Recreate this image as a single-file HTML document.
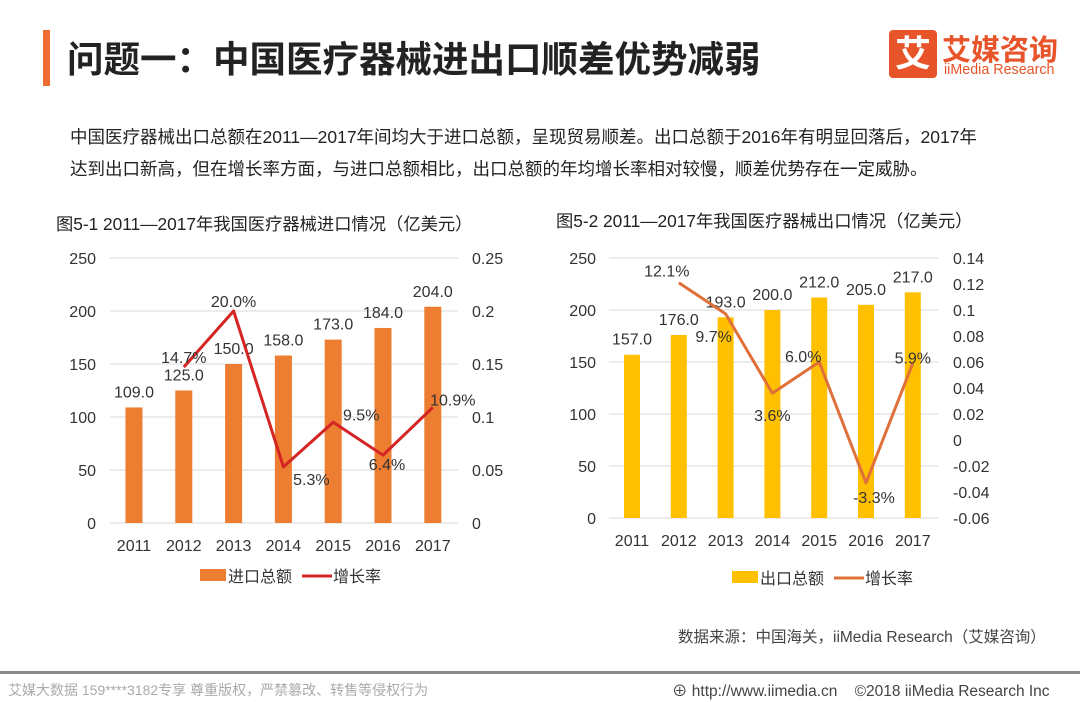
<!DOCTYPE html>
<html><head><meta charset="utf-8"><style>
body{margin:0;width:1080px;height:702px;background:#fff;position:relative;overflow:hidden;font-family:"Liberation Sans","Noto Sans CJK SC",sans-serif;color:#222}
.a{position:absolute;white-space:nowrap}
</style></head><body>
<div class="a" style="left:43px;top:30px;width:7px;height:56px;background:#ed6d35"></div>
<div class="a" style="left:67px;top:30px;font-size:36.5px;font-weight:bold;color:#222">问题一：中国医疗器械进出口顺差优势减弱</div>
<div class="a" style="left:889px;top:30px;width:48px;height:48px;background:#e8542a;border-radius:4px;color:#fff;font-size:36px;font-weight:bold;text-align:center;line-height:48px">艾</div>
<div class="a" style="left:942px;top:27px;font-size:29px;font-weight:bold;color:#e8542a">艾媒咨询</div>
<div class="a" style="left:944px;top:62px;font-size:14.3px;color:#e8542a">iiMedia Research</div>
<div class="a" style="left:70px;top:121px;font-size:17.5px;line-height:32px;color:#222">中国医疗器械出口总额在2011—2017年间均大于进口总额，呈现贸易顺差。出口总额于2016年有明显回落后，2017年<br>达到出口新高，但在增长率方面，与进口总额相比，出口总额的年均增长率相对较慢，顺差优势存在一定威胁。</div>
<div class="a" style="left:56px;top:210px;font-size:17.3px">图5-1 2011—2017年我国医疗器械进口情况（亿美元）</div>
<div class="a" style="left:556px;top:207px;font-size:17.3px">图5-2 2011—2017年我国医疗器械出口情况（亿美元）</div>
<svg class="a" style="left:0;top:0" width="1080" height="702" id="svg"></svg>
<div class="a" style="left:678px;top:625px;font-size:15.5px;color:#444">数据来源：中国海关，iiMedia Research（艾媒咨询）</div>
<div class="a" style="left:0;top:671px;width:1080px;height:3px;background:#8a8a8a"></div>
<div class="a" style="left:8px;top:680px;font-size:14px;color:#aaa">艾媒大数据 159****3182专享 尊重版权，严禁篡改、转售等侵权行为</div>
<div class="a" style="left:672px;top:679px;font-size:15.5px;color:#444">⊕ http://www.iimedia.cn &nbsp;&nbsp;&nbsp;©2018 iiMedia Research Inc</div>
<script>
const years=['2011','2012','2013','2014','2015','2016','2017'];
const importVals=[109,125,150,158,173,184,204];
const importRate=[null,0.147,0.200,0.053,0.095,0.064,0.109];
const exportVals=[157,176,193,200,212,205,217];
const exportRate=[null,0.121,0.097,0.036,0.060,-0.033,0.059];
const leftTicks=[0,50,100,150,200,250];
const leftRTicks=['0','0.05','0.1','0.15','0.2','0.25'];
const rightRTicks=['-0.06','-0.04','-0.02','0','0.02','0.04','0.06','0.08','0.1','0.12','0.14'];
const NS='http://www.w3.org/2000/svg';
const svg=document.getElementById('svg');
function mk(t,a,txt){const e=document.createElementNS(NS,t);for(const k in a)e.setAttribute(k,a[k]);if(txt!=null)e.textContent=txt;svg.appendChild(e);return e;}
function chart(o){
 const yL=v=>o.y0-(v/250)*(o.y0-o.y1);
 const yR=v=>o.y0-(v-o.rmin)/(o.rmax-o.rmin)*(o.y0-o.y1);
 const xC=i=>o.x0+i*o.step;
 leftTicks.forEach(t=>{
  const g=mk('line',{x1:o.gx0,x2:o.gx1,y1:yL(t),y2:yL(t),stroke:'#d9d9d9','stroke-width':1});
  
  const l=mk('text',{x:o.lx,y:yL(t)+6,'font-size':16,'text-anchor':'end',fill:'#333'},t);
  
 });
 o.rticks.forEach(t=>{
  const l=mk('text',{x:o.rx,y:yR(parseFloat(t))+6,'font-size':16,fill:'#333'},t);
  
 });
 o.vals.forEach((v,i)=>{
  const b=mk('rect',{x:xC(i)-o.bw/2,y:yL(v),width:o.bw,height:yL(0)-yL(v),fill:o.barColor});
  
  const t=mk('text',{x:xC(i),y:yL(v)-10,'font-size':16,'text-anchor':'middle',fill:'#333'},v.toFixed(1));
  
  const y=mk('text',{x:xC(i),y:o.y0+28,'font-size':16,'text-anchor':'middle',fill:'#333'},years[i]);
  
 });
 let pts=[];o.rate.forEach((r,i)=>{if(r!=null)pts.push(xC(i)+','+yR(r));});
 const pl=mk('polyline',{points:pts.join(' '),fill:'none',stroke:o.lineColor,'stroke-width':3,'stroke-linejoin':'round'});
 
 o.rate.forEach((r,i)=>{if(r==null)return;
  const off=o.off[i];
  const t=mk('text',{x:xC(i)+off[0],y:yR(r)+off[1],'font-size':16,'text-anchor':'middle',fill:'#333'},(r*100).toFixed(1)+'%');
  
 });
 const lb=mk('rect',{x:o.legX,y:o.legY-7,width:26,height:12,fill:o.barColor});
 
 const lt=mk('text',{x:o.legX+28,y:o.legY+6,'font-size':16,fill:'#333'},o.barName);
 
 const ll=mk('line',{x1:o.legX+102,x2:o.legX+132,y1:o.legY,y2:o.legY,stroke:o.lineColor,'stroke-width':3});
 
 const lt2=mk('text',{x:o.legX+133,y:o.legY+6,'font-size':16,fill:'#333'},'增长率');
 
}
chart({y0:523,y1:258,x0:134,step:49.8,bw:17,gx0:110,gx1:458,lx:96,rx:472,rmin:0,rmax:0.25,rticks:leftRTicks,
 vals:importVals,rate:importRate,barColor:'#ed7d31',lineColor:'#d42424',barName:'进口总额',legX:200,legY:576,
 off:[null,[0,-4],[0,-4],[28,18],[28,-2],[4,15],[20,-2]]});
chart({y0:518,y1:258,x0:632,step:46.8,bw:16,gx0:609,gx1:938,lx:596,rx:953,rmin:-0.06,rmax:0.14,rticks:rightRTicks,
 vals:exportVals,rate:exportRate,barColor:'#ffc000',lineColor:'#e07039',barName:'出口总额',legX:732,legY:578,
 off:[null,[-12,-6],[-12,28],[0,28],[-16,0],[8,20],[0,0]]});
</script>
</body></html>
